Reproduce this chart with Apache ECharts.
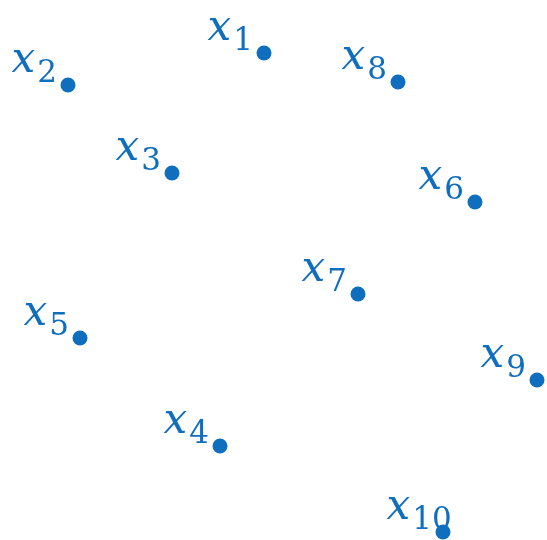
<!DOCTYPE html>
<html>
<head>
<meta charset="utf-8">
<script src="https://cdn.jsdelivr.net/npm/echarts@6/dist/echarts.min.js"></script>
<style>
html, body { margin: 0; padding: 0; background: #fff; }
#chart-box { width: 547px; height: 540px; }
</style>
</head>
<body>
<div id="chart-box"></div>
<script>
// point names, subscripts and positions
var names = ['1', '2', '3', '4', '5', '6', '7', '8', '9', '10'];
var xValues = [264, 68, 172, 220, 80, 475, 358, 398, 537, 443];
var yValues = [53, 85, 173, 446, 338, 202, 294, 82, 380, 532];

var blue = '#106ebe';

var points = [];
for (var i = 0; i < names.length; i++) {
    points.push({ value: [xValues[i], yValues[i]], name: names[i] });
}

var option = {
    animation: false,
    grid: { left: 0, right: 0, top: 0, bottom: 0 },
    xAxis: { type: 'value', min: 0, max: 547, show: false },
    yAxis: { type: 'value', min: 0, max: 540, inverse: true, show: false },
    series: [{
        type: 'scatter',
        symbol: 'circle',
        symbolSize: 15,
        itemStyle: { color: blue, opacity: 1 },
        data: points,
        label: {
            show: true,
            position: [-49, 12],
            align: 'left',
            verticalAlign: 'bottom',
            formatter: function (p) {
                return '{x|x}{s|' + p.name + '}';
            },
            rich: {
                x: {
                    color: blue,
                    fontFamily: 'DejaVu Serif',
                    fontStyle: 'italic',
                    fontSize: 42,
                    lineHeight: 42,
                    padding: [0, 2, 15, 0]
                },
                s: {
                    color: blue,
                    fontFamily: 'DejaVu Serif',
                    fontSize: 31,
                    lineHeight: 32,
                    verticalAlign: 'bottom'
                }
            }
        }
    }]
};

var myChart = echarts.init(document.getElementById('chart-box'));
myChart.setOption(option);
</script>
</body>
</html>
